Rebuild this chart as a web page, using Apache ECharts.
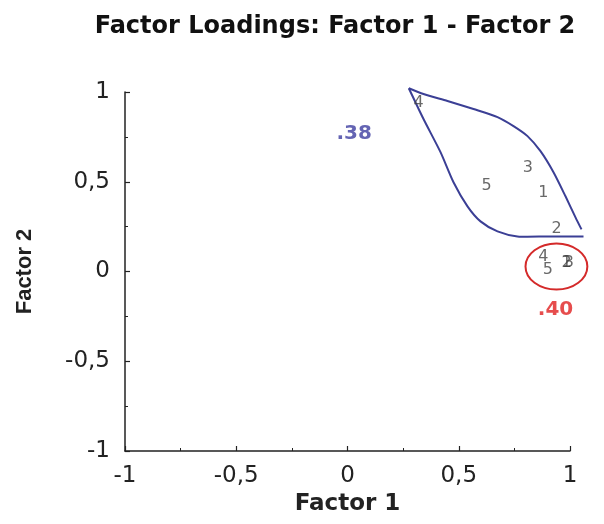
<!DOCTYPE html>
<html><head><meta charset="utf-8">
<script src="https://cdn.jsdelivr.net/npm/echarts@6/dist/echarts.min.js"></script>
<style>html,body{margin:0;padding:0;background:#fff}#c{width:604px;height:524px}</style>
</head><body><div id="c"></div>
<script>
// Tick values
const xTicks = [-1, -0.5, 0, 0.5, 1];
const yTicks = [-1, -0.5, 0, 0.5, 1];
// Loadings, rotation A (inside blue outline)
const groupA_labels = ['1', '2', '3', '4', '5'];
const groupA_x = [0.88, 0.94, 0.81, 0.32, 0.625];
const groupA_y = [0.44, 0.24, 0.58, 0.94, 0.475];
// Loadings, rotation B (inside red ellipse)
const groupB_labels = ['1', '2', '3', '4', '5'];
const groupB_x = [0.985, 0.985, 0.995, 0.88, 0.90];
const groupB_y = [0.05, 0.05, 0.05, 0.084, 0.01];
// Blue outline curves (from apex)
const outlineTop_x = [0.2755, 0.3416, 0.4494, 0.5663, 0.6742, 0.7461, 0.8090, 0.8674, 0.9258, 0.9798, 1.0247, 1.0517];
const outlineTop_y = [1.0207, 0.9888, 0.9497, 0.9050, 0.8603, 0.8101, 0.7542, 0.6704, 0.5531, 0.4190, 0.3017, 0.2346];
const outlineBottom_x = [0.2755, 0.3416, 0.4180, 0.4764, 0.5393, 0.5978, 0.6742, 0.7640, 0.8989, 1.0607];
const outlineBottom_y = [1.0207, 0.8492, 0.6648, 0.4972, 0.3631, 0.2793, 0.2235, 0.1955, 0.1955, 0.1955];
// Red ellipse: center x, center y, radius x, radius y (data units)
const ellipse = [0.939, 0.028, 0.139, 0.128];
// Annotations
const annotBlue = ['.38', 0.030, 0.765];
const annotRed = ['.40', 0.935, -0.212];

const zip = (xs, ys) => xs.map((x, i) => [x, ys[i]]);
const fmt = v => String(v).replace('.', ',');
const FONT = '"DejaVu Sans", Verdana, sans-serif';
const NARROW = '"Liberation Sans", Arial, sans-serif';
const BLUE = '#3b3f95';
const RED = '#d42a2a';

function curveSeries(xs, ys) {
  return {
    type: 'custom', data: zip(xs, ys), clip: false, z: 2,
    renderItem: function (params, api) {
      if (params.dataIndex !== 0) return null;
      const pts = xs.map((x, i) => api.coord([x, ys[i]]));
      return {type: 'polyline', shape: {points: pts, smooth: 0.25},
        style: {fill: null, stroke: BLUE, lineWidth: 2}};
    }
  };
}

const chart = echarts.init(document.getElementById('c'), null, {renderer: 'canvas'});
const axisCommon = {
  min: -1, max: 1, interval: 0.5,
  axisLine: {show: true, onZero: false, lineStyle: {color: '#222', width: 1.5}},
  axisTick: {show: true, inside: true, length: 5, lineStyle: {color: '#222', width: 1.2}},
  minorTick: {show: true, splitNumber: 2, length: 3, lineStyle: {color: '#222', width: 1}},
  splitLine: {show: false},
  axisLabel: {formatter: fmt, color: '#222', fontSize: 23, fontFamily: FONT},
  nameLocation: 'middle',
  nameTextStyle: {color: '#222', fontSize: 23, fontWeight: 'bold', fontFamily: FONT}
};
chart.setOption({
  animation: false,
  title: {text: 'Factor Loadings: Factor 1 - Factor 2', left: 330, top: 10, textAlign: 'center',
    textStyle: {fontSize: 24, fontWeight: 'bold', color: '#111', fontFamily: FONT}},
  grid: {left: 125, right: 34, top: 92, bottom: 73, outerBoundsMode: 'none', containLabel: false},
  xAxis: Object.assign({}, axisCommon, {type: 'value', name: 'Factor 1', nameGap: 40,
    axisLabel: Object.assign({}, axisCommon.axisLabel, {margin: 14})}),
  yAxis: Object.assign({}, axisCommon, {type: 'value', name: 'Factor 2', nameGap: 89,
    nameTextStyle: {color: '#222', fontSize: 22, fontWeight: 'bold', fontFamily: NARROW},
    axisLabel: Object.assign({}, axisCommon.axisLabel, {margin: 15})}),
  series: [
    curveSeries(outlineTop_x, outlineTop_y),
    curveSeries(outlineBottom_x, outlineBottom_y),
    {type: 'custom', data: [ellipse], clip: false, z: 2,
      renderItem: function (params, api) {
        const c = api.coord([api.value(0), api.value(1)]);
        const s = api.size([api.value(2), api.value(3)]);
        return {type: 'ellipse', shape: {cx: c[0], cy: c[1], rx: s[0], ry: s[1]},
          style: {fill: 'none', stroke: RED, lineWidth: 2}};
      }},
    {type: 'scatter', symbolSize: 0, z: 3,
      data: groupA_labels.map((n, i) => ({name: n, value: [groupA_x[i], groupA_y[i]]})),
      label: {show: true, position: 'inside', formatter: p => p.name, color: '#444', fontSize: 16, fontFamily: FONT}},
    {type: 'scatter', symbolSize: 0, z: 3,
      data: groupB_labels.map((n, i) => ({name: n, value: [groupB_x[i], groupB_y[i]]})),
      label: {show: true, position: 'inside', formatter: p => p.name, color: '#444', fontSize: 16, fontFamily: FONT}},
    {type: 'scatter', symbolSize: 0, z: 3, clip: false,
      data: [{name: annotBlue[0], value: [annotBlue[1], annotBlue[2]]}],
      label: {show: true, position: 'inside', formatter: p => p.name, color: '#3d3da0', fontSize: 20, fontWeight: 'bold', fontFamily: FONT}},
    {type: 'scatter', symbolSize: 0, z: 3, clip: false,
      data: [{name: annotRed[0], value: [annotRed[1], annotRed[2]]}],
      label: {show: true, position: 'inside', formatter: p => p.name, color: '#e02020', fontSize: 20, fontWeight: 'bold', fontFamily: FONT}}
  ]
});
</script></body></html>
